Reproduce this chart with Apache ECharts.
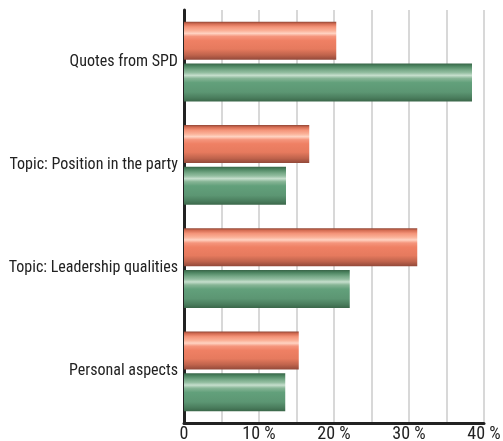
<!DOCTYPE html>
<html>
<head>
<meta charset="utf-8">
<script src="https://cdn.jsdelivr.net/npm/echarts@6/dist/echarts.min.js"></script>
<style>html,body{margin:0;padding:0;background:#fff}#c{width:503px;height:441px}</style>
</head>
<body>
<div id="c"></div>
<script>
const categories = ['Quotes from SPD', 'Topic: Position in the party', 'Topic: Leadership qualities', 'Personal aspects'];
const seriesRed = [20.3, 16.7, 31.1, 15.3];
const seriesGreen = [38.4, 13.6, 22.1, 13.5];
const tickLabels = {0: '0', 10: '10 %', 20: '20 %', 30: '30 %', 40: '40 %'};

const FONT = '"Roboto Condensed", "Liberation Sans Narrow", sans-serif';

const redGrad = new echarts.graphic.LinearGradient(0, 0, 0, 1, [
  {offset: 0, color: '#8c4434'},
  {offset: 0.06, color: '#d56d53'},
  {offset: 0.14, color: '#f49479'},
  {offset: 0.24, color: '#fbb299'},
  {offset: 0.31, color: '#ffd3c2'},
  {offset: 0.39, color: '#f5957c'},
  {offset: 0.5, color: '#ef8064'},
  {offset: 0.72, color: '#e67a5e'},
  {offset: 0.88, color: '#bf634c'},
  {offset: 1, color: '#93493a'}
]);
const greenGrad = new echarts.graphic.LinearGradient(0, 0, 0, 1, [
  {offset: 0, color: '#386648'},
  {offset: 0.07, color: '#4f8763'},
  {offset: 0.16, color: '#75a886'},
  {offset: 0.24, color: '#94bea1'},
  {offset: 0.31, color: '#c6dfcd'},
  {offset: 0.39, color: '#87b596'},
  {offset: 0.5, color: '#62a07b'},
  {offset: 0.75, color: '#5c9673'},
  {offset: 0.9, color: '#4a7d5d'},
  {offset: 1, color: '#3a6649'}
]);

const chart = echarts.init(document.getElementById('c'), null, {renderer: 'canvas'});
chart.setOption({
  animation: false,
  grid: {left: 184, right: 19, top: 10, bottom: 18, containLabel: false, outerBoundsMode: 'none'},
  xAxis: {
    type: 'value', min: 0, max: 40, interval: 5,
    axisLine: {show: true, lineStyle: {color: '#222', width: 3}},
    axisTick: {show: false},
    splitLine: {show: true, lineStyle: {color: '#d8d8d8', width: 2}},
    axisLabel: {
      color: '#222', fontFamily: FONT, fontSize: 18, margin: 2,
      hideOverlap: false,
      formatter: v => (tickLabels[v] !== undefined ? tickLabels[v] : '')
    }
  },
  yAxis: {
    type: 'category', data: categories, inverse: true,
    axisLine: {show: true, lineStyle: {color: '#222', width: 3}},
    axisTick: {show: false},
    axisLabel: {color: '#222', fontFamily: FONT, fontSize: 16, margin: 6}
  },
  series: [
    {type: 'bar', data: seriesRed, barWidth: 38, barGap: '10.5%', itemStyle: {color: redGrad}},
    {type: 'bar', data: seriesGreen, barWidth: 38, barGap: '10.5%', itemStyle: {color: greenGrad}}
  ]
});
</script>
</body>
</html>
